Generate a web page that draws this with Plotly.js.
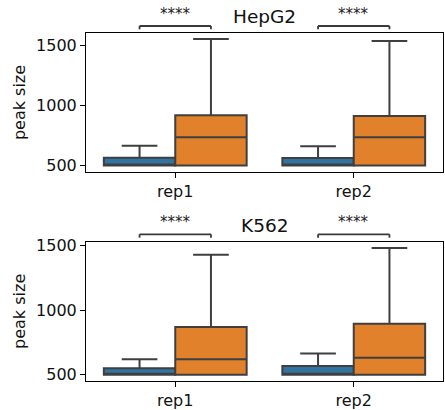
<!DOCTYPE html>
<html>
<head>
<meta charset="utf-8">
<script src="https://cdn.plot.ly/plotly-3.0.1.min.js"></script>
<style>html,body{margin:0;padding:0;background:#fff;}#chart{width:445px;height:410px;}</style>
</head>
<body>
<div id="chart"></div>
<script>
// ---- data ----
const reps = ['rep1', 'rep2'];
const panels = ['HepG2', 'K562'];
const sigLabels = ['****', '****'];

// HepG2
const hepg2BlueQ1 = [500, 500];
const hepg2BlueMedian = [500, 500];
const hepg2BlueQ3 = [565, 564];
const hepg2BlueLow = [500, 500];
const hepg2BlueHigh = [665, 661];
const hepg2OrangeQ1 = [500, 500];
const hepg2OrangeMedian = [735, 735];
const hepg2OrangeQ3 = [918, 913];
const hepg2OrangeLow = [500, 500];
const hepg2OrangeHigh = [1552, 1536];

// K562
const k562BlueQ1 = [500, 500];
const k562BlueMedian = [500, 500];
const k562BlueQ3 = [549, 567];
const k562BlueLow = [500, 500];
const k562BlueHigh = [619, 665];
const k562OrangeQ1 = [500, 500];
const k562OrangeMedian = [619, 632];
const k562OrangeQ3 = [870, 895];
const k562OrangeLow = [500, 500];
const k562OrangeHigh = [1430, 1482];

// ---- styling ----
const BLUE = '#3274a1';
const ORANGE = '#e1812c';
const EDGE = '#3f3f3f';
const FONT = 'DejaVu Sans, sans-serif';

function box(q1, med, q3, lo, hi, color, xa, ya, name, ag, og) {
  return {
    type: 'box', x: reps, q1: q1, median: med, q3: q3,
    lowerfence: lo, upperfence: hi, boxpoints: false,
    fillcolor: color, line: {color: EDGE, width: 2},
    whiskerwidth: 0.5, xaxis: xa, yaxis: ya, name: name,
    alignmentgroup: ag, offsetgroup: og,
    showlegend: false, hoverinfo: 'skip'
  };
}

const data = [
  box(hepg2BlueQ1, hepg2BlueMedian, hepg2BlueQ3, hepg2BlueLow, hepg2BlueHigh, BLUE, 'x', 'y', 'group 1', 'top', 'g1'),
  box(hepg2OrangeQ1, hepg2OrangeMedian, hepg2OrangeQ3, hepg2OrangeLow, hepg2OrangeHigh, ORANGE, 'x', 'y', 'group 2', 'top', 'g2'),
  box(k562BlueQ1, k562BlueMedian, k562BlueQ3, k562BlueLow, k562BlueHigh, BLUE, 'x2', 'y2', 'group 1', 'bot', 'g1'),
  box(k562OrangeQ1, k562OrangeMedian, k562OrangeQ3, k562OrangeLow, k562OrangeHigh, ORANGE, 'x2', 'y2', 'group 2', 'bot', 'g2')
];

const topDomain = [0.6006, 1];
const botDomain = [0, 0.4003];

function xax(anchor) {
  return {
    anchor: anchor, domain: [0, 1], range: [-0.5, 1.5], type: 'category',
    showline: true, mirror: true, linecolor: '#000', linewidth: 1,
    ticks: 'outside', ticklen: 5, tickcolor: '#000', tickwidth: 1,
    showgrid: false, zeroline: false,
    tickfont: {family: FONT, size: 16, color: '#111'}
  };
}
function yax(anchor, domain, range) {
  return {
    anchor: anchor, domain: domain, range: range,
    tickvals: [500, 1000, 1500], ticktext: ['500', '1000', '1500'],
    showline: true, mirror: true, linecolor: '#000', linewidth: 1,
    ticks: 'outside', ticklen: 5, tickcolor: '#000', tickwidth: 1,
    showgrid: false, zeroline: false,
    tickfont: {family: FONT, size: 16, color: '#111'},
    title: {text: 'peak size', font: {family: FONT, size: 16, color: '#111'}, standoff: 6}
  };
}

// significance brackets between the two hue boxes of each category
const half = 0.2; // hue offset within a category
const shapes = [];
const annotations = [];
const bracketY = [[1.0201, 1.0106], [0.4216, 0.4118]];
const xrefs = ['x', 'x2'];
panels.forEach((p, pi) => {
  const [yt, yb] = bracketY[pi];
  reps.forEach((r, ri) => {
    const xl = ri - half, xr = ri + half;
    const ln = {color: '#3a3a3a', width: 1.8};
    shapes.push({type: 'line', xref: xrefs[pi], yref: 'paper', x0: xl, x1: xr, y0: yt, y1: yt, line: ln});
    shapes.push({type: 'line', xref: xrefs[pi], yref: 'paper', x0: xl, x1: xl, y0: yb, y1: yt, line: ln});
    shapes.push({type: 'line', xref: xrefs[pi], yref: 'paper', x0: xr, x1: xr, y0: yb, y1: yt, line: ln});
    annotations.push({
      text: sigLabels[ri], xref: xrefs[pi], yref: 'paper', x: ri, y: yt,
      xanchor: 'center', yanchor: 'bottom', showarrow: false, yshift: 1,
      font: {family: FONT, size: 15, color: '#222'}
    });
  });
  annotations.push({
    text: p, xref: 'paper', yref: 'paper', x: 0.5, y: pi === 0 ? topDomain[1] : botDomain[1],
    xanchor: 'center', yanchor: 'bottom', showarrow: false, yshift: 4,
    font: {family: FONT, size: 18.5, color: '#111'}
  });
});

const layout = {
  width: 445, height: 410,
  margin: {l: 86, r: 2, t: 33, b: 29},
  paper_bgcolor: '#fff', plot_bgcolor: '#fff',
  boxmode: 'group', boxgap: 0.2, boxgroupgap: 0,
  font: {family: FONT},
  xaxis: xax('y'), yaxis: yax('x', topDomain, [447, 1602.5]),
  xaxis2: xax('y2'), yaxis2: yax('x2', botDomain, [451, 1531]),
  shapes: shapes, annotations: annotations
};

Plotly.newPlot('chart', data, layout, {staticPlot: true, displayModeBar: false});
</script>
</body>
</html>
